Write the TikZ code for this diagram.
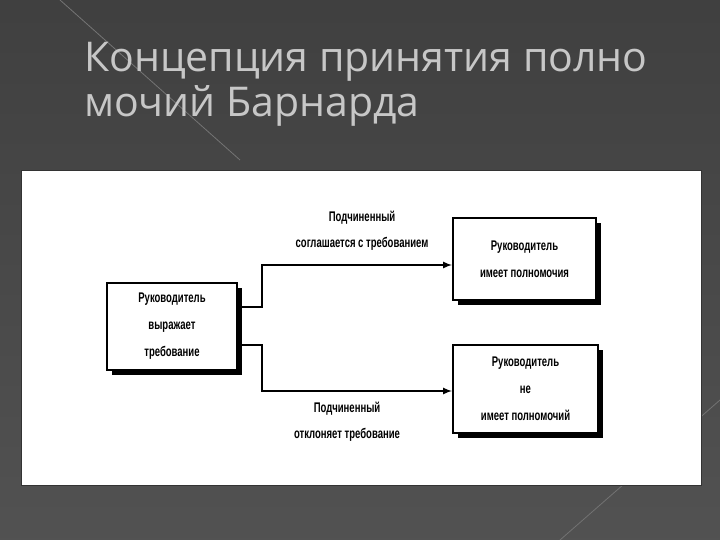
\documentclass[tikz,border=0pt]{standalone}
\usepackage{fontspec}
\setmainfont{Open Sans}
\newfontfamily\boxfont[FakeStretch=0.68]{Liberation Sans}
\begin{document}
\begin{tikzpicture}[x=1pt,y=-1pt,
  box/.style={draw=black,line width=2pt,fill=white,align=center,font=\boxfont\bfseries\fontsize{14}{27}\selectfont},
  lab/.style={font=\boxfont\bfseries\fontsize{14}{26}\selectfont,align=center},
  arr/.style={line width=2pt,-latex}]
\useasboundingbox (0,0) rectangle (720,540);
\shade[top color=black!75,bottom color=black!68] (0,0) rectangle (720,540);
\draw[black!55,line width=0.8pt] (60,0) -- (240,160);
\draw[black!55,line width=0.8pt] (560,540) -- (720,400);
\node[anchor=base west,text=black!22,font=\fontsize{41}{44}\selectfont,inner sep=0] (t1) at (84,72) {Концепция принятия полно};
\node[anchor=base west,text=black!22,font=\fontsize{41}{44}\selectfont,inner sep=0] (t2) at (84,117) {мочий Барнарда};
\node[draw=black!80,line width=1pt,fill=white,minimum width=680,minimum height=314,inner sep=0] (panel) at (361,328) {};
% boxes
\fill (112,288) rectangle (242,375);
\node[box,minimum width=130,minimum height=87,inner sep=0] (a) at (172,326.5) {Руководитель\\выражает\\требование};
\fill (458,223) rectangle (601,305);
\node[box,minimum width=143,minimum height=82,inner sep=0] (b) at (524.5,259) {Руководитель\\имеет полномочия};
\fill (458,350) rectangle (603,438);
\node[box,minimum width=145,minimum height=88,inner sep=0] (c) at (525.5,389) {Руководитель\\не\\имеет полномочий};
\coordinate (a1) at (a.east |- 0,307);
\coordinate (a2) at (a.east |- 0,345);
\draw[arr] (a1) -- (262,307) -- (262,265) -- (b.west |- 0,265);
\draw[arr] (a2) -- (262,345) -- (262,391) -- (c.west |- 0,391);
\node[lab] (l1) at (362,231) {Подчиненный\\соглашается с требованием};
\node[lab] (l2) at (347,422) {Подчиненный\\отклоняет требование};
\end{tikzpicture}
\end{document}
